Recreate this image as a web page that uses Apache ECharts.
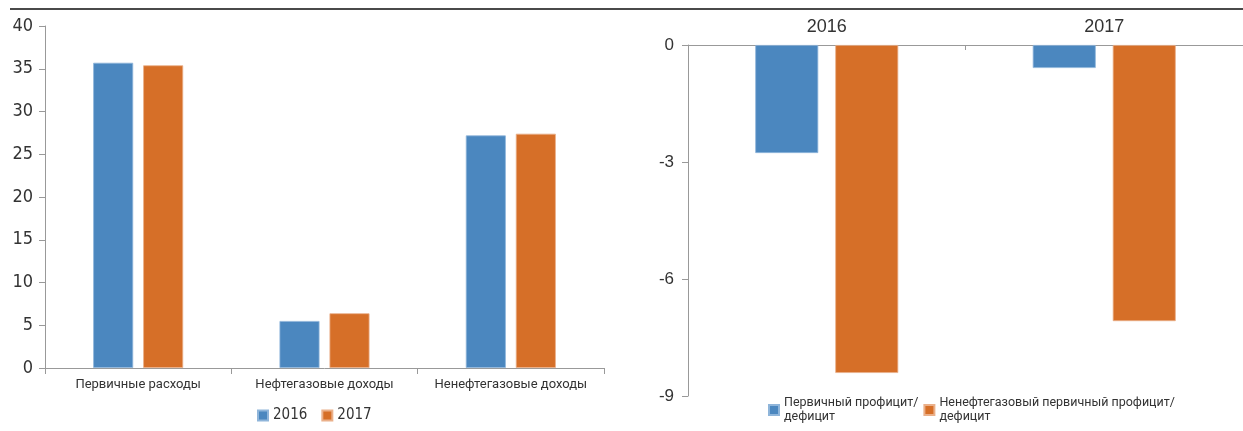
<!DOCTYPE html>
<html><head><meta charset="utf-8">
<script src="https://cdn.jsdelivr.net/npm/echarts@6/dist/echarts.min.js"></script>
<style>html,body{margin:0;padding:0;background:#fff}#c{width:1243px;height:431px}</style>
</head><body><div id="c"></div>
<script>
const leftCategories = ['Первичные расходы', 'Нефтегазовые доходы', 'Ненефтегазовые доходы'];
const left2016 = [35.7, 5.5, 27.2];
const left2017 = [35.4, 6.4, 27.4];
const rightCategories = ['2016', '2017'];
const primaryBalance = [-2.77, -0.59];
const nonOilPrimaryBalance = [-8.41, -7.08];
const leftTicks = {min: 0, max: 40, interval: 5};
const rightTicks = {min: -9, max: 0, interval: 3};
const seriesNamesRight = ['Первичный профицит/дефицит', 'Ненефтегазовый первичный профицит/дефицит'];

const BLUE = '#4b87bf', ORANGE = '#d66f28';
const chart = echarts.init(document.getElementById('c'), null, {renderer: 'canvas'});
chart.setOption({
  animation: false,
  color: [BLUE, ORANGE],
  graphic: [{type: 'line', shape: {x1: 10, y1: 9, x2: 1243, y2: 9}, style: {stroke: '#4a4a4a', lineWidth: 2}}],
  grid: [
    {left: 45, right: 639, top: 26, bottom: 63},
    {left: 688, right: -5, top: 45, bottom: 35}
  ],
  legend: [
    {data: ['2016', '2017'], left: 252, top: 403, itemWidth: 10, itemHeight: 10, itemGap: 14, icon: 'rect',
     textStyle: {fontFamily: 'Liberation Sans Narrow, DejaVu Sans Condensed, sans-serif', fontSize: 15, color: '#333'}},
    {data: seriesNamesRight, left: 763, top: 384, itemWidth: 10, itemHeight: 10, itemGap: 5, icon: 'rect',
     formatter: n => n.replace('/', '/\n'),
     textStyle: {fontFamily: 'Roboto, sans-serif', fontSize: 12.5, color: '#333', lineHeight: 14, padding: [14, 0, 0, 0]}}
  ],
  xAxis: [
    {type: 'category', gridIndex: 0, data: leftCategories,
     axisLine: {lineStyle: {color: '#999'}}, axisTick: {show: true, length: 6, lineStyle: {color: '#999'}},
     axisLabel: {interval: 0, color: '#333', fontSize: 13, fontFamily: 'Roboto, sans-serif', margin: 10}},
    {type: 'category', gridIndex: 1, data: rightCategories, position: 'top',
     axisLine: {onZero: false, lineStyle: {color: '#999'}}, axisTick: {show: true, inside: true, length: 5, lineStyle: {color: '#999'}},
     axisLabel: {interval: 0, color: '#333', fontSize: 18, fontFamily: 'Liberation Sans, Arial, sans-serif', margin: 9}}
  ],
  yAxis: [
    {type: 'value', gridIndex: 0, min: leftTicks.min, max: leftTicks.max, interval: leftTicks.interval,
     axisLine: {show: true, lineStyle: {color: '#999'}}, axisTick: {show: true, length: 6, lineStyle: {color: '#999'}},
     splitLine: {show: false},
     axisLabel: {color: '#333', fontSize: 18, fontFamily: 'Liberation Sans Narrow, DejaVu Sans Condensed, sans-serif', margin: 12}},
    {type: 'value', gridIndex: 1, min: rightTicks.min, max: rightTicks.max, interval: rightTicks.interval,
     axisLine: {show: true, lineStyle: {color: '#999'}}, axisTick: {show: true, length: 6, lineStyle: {color: '#999'}},
     splitLine: {show: false},
     axisLabel: {color: '#333', fontSize: 17, fontFamily: 'Liberation Sans, Arial, sans-serif', margin: 14}}
  ],
  series: [
    {name: '2016', type: 'bar', xAxisIndex: 0, yAxisIndex: 0, data: left2016, barWidth: 40, barGap: '25%',
     itemStyle: {color: BLUE, borderColor: '#8fb5da', borderWidth: 0.8}},
    {name: '2017', type: 'bar', xAxisIndex: 0, yAxisIndex: 0, data: left2017, barWidth: 40, barGap: '25%',
     itemStyle: {color: ORANGE, borderColor: '#eab08a', borderWidth: 0.8}},
    {name: seriesNamesRight[0], type: 'bar', xAxisIndex: 1, yAxisIndex: 1, data: primaryBalance, barWidth: 63, barGap: '27%',
     itemStyle: {color: BLUE, borderColor: '#8fb5da', borderWidth: 0.8}},
    {name: seriesNamesRight[1], type: 'bar', xAxisIndex: 1, yAxisIndex: 1, data: nonOilPrimaryBalance, barWidth: 63, barGap: '27%',
     itemStyle: {color: ORANGE, borderColor: '#eab08a', borderWidth: 0.8}}
  ]
});
</script></body></html>
